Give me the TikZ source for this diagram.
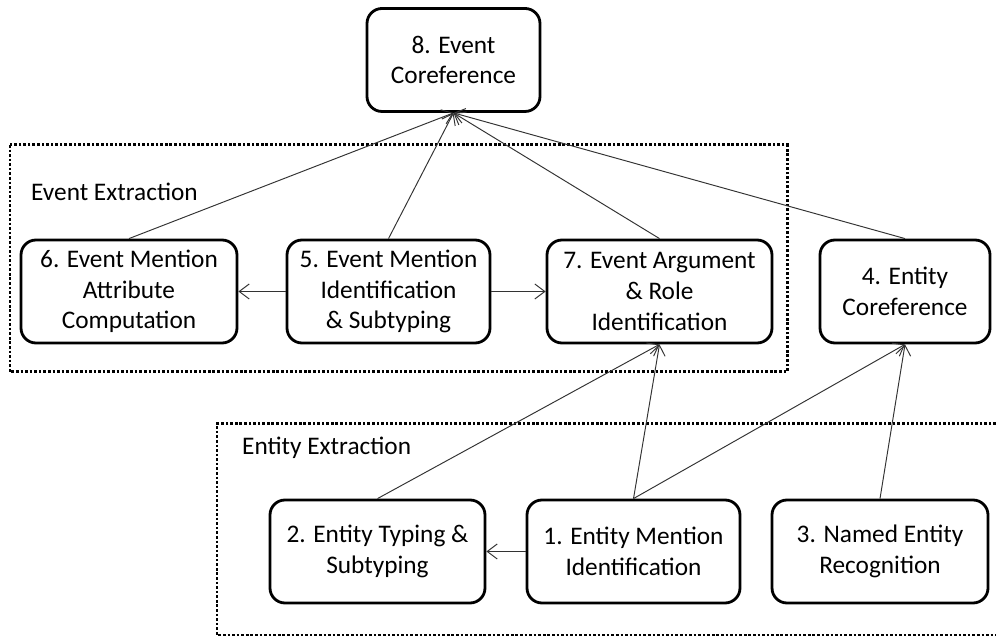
\documentclass[tikz,border=0pt]{standalone}
\usepackage{fontspec}
\setmainfont{Carlito}
\usetikzlibrary{arrows.meta}

\begin{document}
\begin{tikzpicture}[
    box/.style={rectangle, rounded corners=0.3cm, draw=black, line width=1.6pt, align=center,
      minimum height=2.06cm, inner sep=0pt, font=\fontsize{14.4}{17.5}\selectfont},
    link/.style={draw=black!80, line width=0.55pt, -{Straight Barb[length=2mm, width=3mm]}},
    group/.style={line width=1.7pt, dash pattern=on 1.5pt off 1.1pt},
    grouplabel/.style={anchor=west, font=\fontsize{14.4}{17.5}\selectfont}]
    \useasboundingbox (0,0) rectangle (19.92,12.74);

    % the two extraction groups
    \draw[group] (0.20,9.84) rectangle (15.74,5.30);
    \draw[group] (19.92,4.26) -- (4.34,4.26) -- (4.34,0.04) -- (19.92,0.04);
    \node[grouplabel](LEV) at (0.50,8.90){Event Extraction};
    \node[grouplabel](LEN) at (4.72,3.78){Entity Extraction};

    \node[box, minimum width=3.46cm](EVC) at (9.07,11.54){8. Event\\Coreference};
    \node[box, minimum width=4.32cm](EMA) at (2.58,6.91){6. Event Mention\\Attribute\\Computation};
    \node[box, minimum width=4.06cm](EMS) at (7.77,6.91){5. Event Mention\\Identification\\\& Subtyping};
    \node[box, minimum width=4.50cm](EAR) at (13.19,6.91){7. Event Argument\\\& Role\\Identification};
    \node[box, minimum width=3.40cm](ENC) at (18.10,6.91){4. Entity\\Coreference};
    \node[box, minimum width=4.30cm](ETS) at (7.55,1.71){2. Entity Typing \&\\Subtyping};
    \node[box, minimum width=4.26cm](EMI) at (12.67,1.71){1. Entity Mention\\Identification};
    \node[box, minimum width=4.32cm](NER) at (17.60,1.71){3. Named Entity\\Recognition};

    \draw[link] (EMA.north) -- (EVC.south);
    \draw[link] (EMS.north) -- (EVC.south);
    \draw[link] (EAR.north) -- (EVC.south);
    \draw[link] (ENC.north) -- (EVC.south);
    \draw[link] (EMS.west) -- (EMA.east);
    \draw[link] (EMS.east) -- (EAR.west);
    \draw[link] (ETS.north) -- (EAR.south);
    \draw[link] (EMI.north) -- (EAR.south);
    \draw[link] (EMI.north) -- (ENC.south);
    \draw[link] (NER.north) -- (ENC.south);
    \draw[link] (EMI.west) -- (ETS.east);
\end{tikzpicture}
\end{document}
